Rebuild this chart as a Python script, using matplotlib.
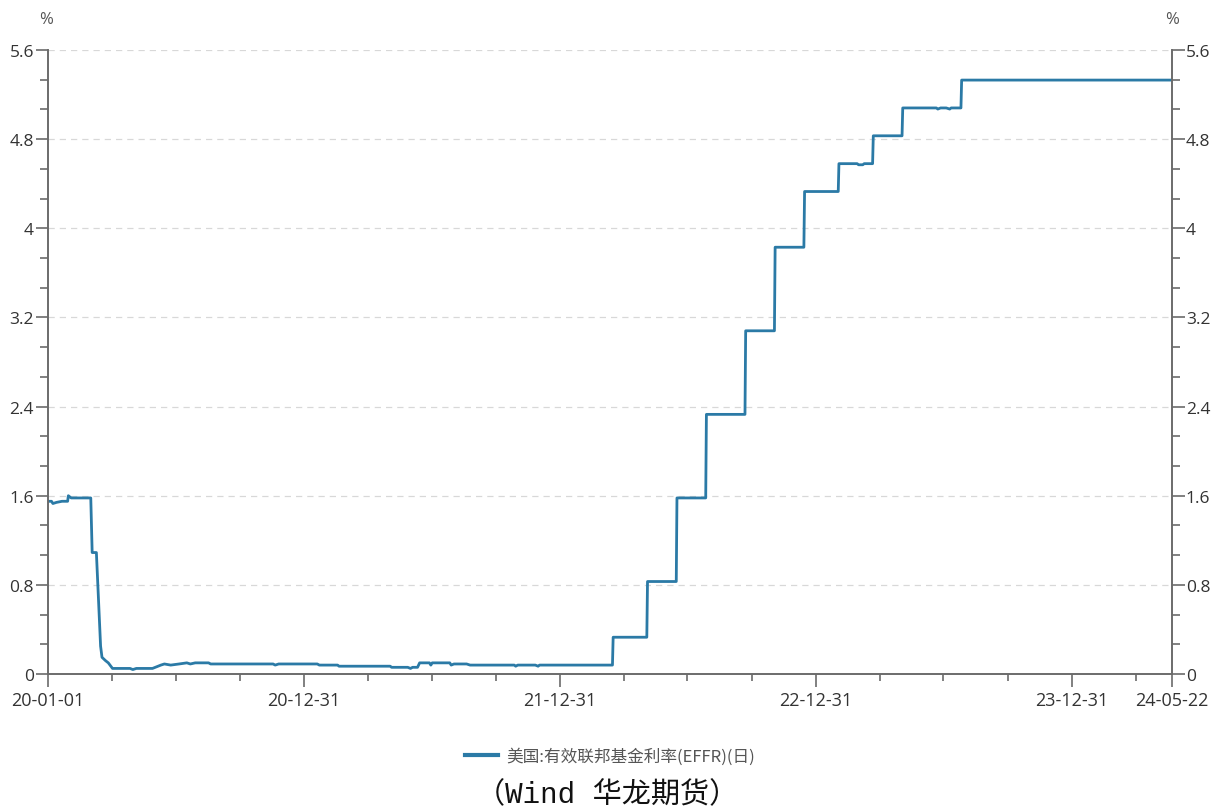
import matplotlib
matplotlib.use("Agg")
import matplotlib.pyplot as plt
import pandas as pd

plt.rcParams['font.family'] = ['Open Sans', 'Noto Sans CJK SC', 'DejaVu Sans']

# daily EFFR observations (only the days where the level moves)
obs_dates = [
    "2020-01-01", "2020-01-06", "2020-01-08", "2020-01-13", "2020-01-21", "2020-01-29",
    "2020-01-30", "2020-02-03", "2020-03-02", "2020-03-04", "2020-03-10", "2020-03-16",
    "2020-03-18", "2020-03-23", "2020-03-27", "2020-04-02", "2020-04-27", "2020-05-01",
    "2020-05-06", "2020-05-29", "2020-06-10", "2020-06-15", "2020-06-24", "2020-07-06",
    "2020-07-17", "2020-07-22", "2020-07-29", "2020-08-17", "2020-08-20", "2020-11-17",
    "2020-11-20", "2020-11-25", "2021-01-19", "2021-01-22", "2021-02-17", "2021-02-19",
    "2021-05-03", "2021-05-05", "2021-05-28", "2021-06-01", "2021-06-04", "2021-06-11",
    "2021-06-14", "2021-06-28", "2021-06-30", "2021-07-02", "2021-07-27", "2021-07-29",
    "2021-08-02", "2021-08-20", "2021-08-25", "2021-10-27", "2021-10-29", "2021-11-01",
    "2021-11-26", "2021-11-30", "2021-12-02", "2022-03-16", "2022-03-17", "2022-05-04",
    "2022-05-05", "2022-06-15", "2022-06-16", "2022-07-27", "2022-07-28", "2022-09-21",
    "2022-09-22", "2022-11-02", "2022-11-03", "2022-12-14", "2022-12-15", "2023-02-01",
    "2023-02-02", "2023-02-28", "2023-03-02", "2023-03-08", "2023-03-10", "2023-03-22",
    "2023-03-23", "2023-05-03", "2023-05-04", "2023-06-21", "2023-06-23", "2023-06-27",
    "2023-07-05", "2023-07-10", "2023-07-12", "2023-07-26", "2023-07-27", "2024-05-22",
]
effr = [
    1.55, 1.55, 1.53, 1.54, 1.55, 1.55,
    1.60, 1.58, 1.58, 1.09, 1.09, 0.25,
    0.15, 0.12, 0.10, 0.05, 0.05, 0.04,
    0.05, 0.05, 0.08, 0.09, 0.08, 0.09,
    0.10, 0.09, 0.10, 0.10, 0.09, 0.09,
    0.08, 0.09, 0.09, 0.08, 0.08, 0.07,
    0.07, 0.06, 0.06, 0.05, 0.06, 0.06,
    0.10, 0.10, 0.08, 0.10, 0.10, 0.08,
    0.09, 0.09, 0.08, 0.08, 0.07, 0.08,
    0.08, 0.07, 0.08, 0.08, 0.33, 0.33,
    0.83, 0.83, 1.58, 1.58, 2.33, 2.33,
    3.08, 3.08, 3.83, 3.83, 4.33, 4.33,
    4.58, 4.58, 4.57, 4.57, 4.58, 4.58,
    4.83, 4.83, 5.08, 5.08, 5.07, 5.08,
    5.08, 5.07, 5.08, 5.08, 5.33, 5.33,
]

x_start, x_end = "2020-01-01", "2024-05-22"
tick_dates = ["2020-01-01", "2020-12-31", "2021-12-31", "2022-12-31", "2023-12-31", "2024-05-22"]
tick_labels = ["20-01-01", "20-12-31", "21-12-31", "22-12-31", "23-12-31", "24-05-22"]
y_ticks = [0, 0.8, 1.6, 2.4, 3.2, 4.0, 4.8, 5.6]
y_tick_labels = ["0", "0.8", "1.6", "2.4", "3.2", "4", "4.8", "5.6"]
series_name = "美国:有效联邦基金利率(EFFR)(日)"
source_note = "（Wind 华龙期货）"

line_color = "#2b7aa6"
axis_color = "#6b6b6b"
label_color = "#333333"

fig = plt.figure(figsize=(12.13, 8.12), dpi=100)
ax = fig.add_axes([48 / 1213, 1 - 675 / 812, 1124 / 1213, 624 / 812])

dates = pd.to_datetime(obs_dates)
ax.plot(dates, effr, color=line_color, lw=2.0, label=series_name, solid_joinstyle="round")

ax.set_xlim(pd.Timestamp(x_start), pd.Timestamp(x_end))
ax.set_ylim(0, 5.6)

# horizontal dashed grid
for v in y_ticks[1:]:
    ax.axhline(v, color="#d8d8d8", lw=0.9, ls=(0, (5, 4)), zorder=0)

# x axis: labelled year ends plus quarterly minor ticks
ax.set_xticks(pd.to_datetime(tick_dates))
ax.set_xticklabels(tick_labels)
quarters = pd.date_range("2020-04-01", "2024-05-01", freq="QS")
ax.set_xticks([q for q in quarters if q.month != 1], minor=True)

ax.set_yticks(y_ticks)
ax.set_yticklabels(y_tick_labels)
ax.set_yticks([v + d for v in y_ticks[:-1] for d in (0.8 / 3, 1.6 / 3)], minor=True)

ax.tick_params(axis="x", which="major", length=9, width=1.2, color=axis_color,
               labelsize=13, labelcolor=label_color, pad=3)
ax.tick_params(axis="x", which="minor", length=5, width=1.2, color=axis_color)
ax.tick_params(axis="y", which="major", length=9, width=1.2, color=axis_color,
               labelsize=12.5, labelcolor=label_color, pad=1,
               left=True, right=True, labelleft=True, labelright=True)
ax.tick_params(axis="y", which="minor", length=6, width=1.2, color=axis_color,
               left=True, right=True)

ax.spines["top"].set_visible(False)
for side in ("left", "right", "bottom"):
    ax.spines[side].set_color(axis_color)
    ax.spines[side].set_linewidth(1.4)

fig.text(46 / 1213, 1 - 20 / 812, "%", ha="center", va="center", fontsize=12, color="#555555")
fig.text(1172 / 1213, 1 - 20 / 812, "%", ha="center", va="center", fontsize=12, color="#555555")

leg = ax.legend(loc="center", bbox_to_anchor=(610 / 1213, 1 - 757 / 812),
                bbox_transform=fig.transFigure, frameon=False, fontsize=12,
                handlelength=2.0, handletextpad=0.5)
for t in leg.get_texts():
    t.set_color("#555555")
    t.set_family(["Noto Sans CJK SC", "DejaVu Sans"])
leg.get_lines()[0].set_linewidth(3)

fig.text(607 / 1213, 1 - 795 / 812, source_note, ha="center", va="center", fontsize=21,
         color="#111111", family=["Liberation Mono", "Noto Sans CJK SC"])

fig.savefig("out.png", dpi=100)
